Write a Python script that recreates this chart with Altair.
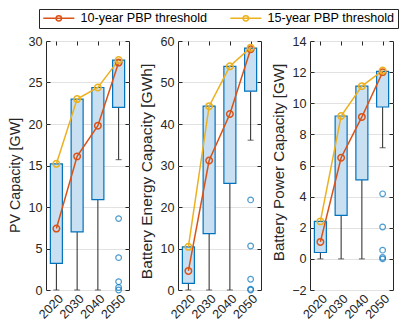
import altair as alt
import pandas as pd

years = ["2020", "2030", "2040", "2050"]
series_names = ["10-year PBP threshold", "15-year PBP threshold"]

# PV capacity [GW]
pv_q1 = [3.2, 7.0, 10.9, 22.0]
pv_q3 = [15.2, 23.0, 24.4, 27.7]
pv_wlo = [0.0, 0.0, 0.0, 15.7]
pv_out = [8.6, 3.9, 1.0, 0.3, 0.0]
pv_10 = [7.4, 16.1, 19.8, 27.4]
pv_15 = [15.2, 23.0, 24.4, 27.7]

# Battery energy capacity [GWh]
be_q1 = [1.6, 13.6, 25.7, 47.9]
be_q3 = [10.4, 44.3, 53.9, 58.3]
be_wlo = [0.0, 0.0, 0.0, 36.1]
be_out = [21.7, 10.6, 2.6, 0.2, 0.0]
be_10 = [4.6, 31.2, 42.4, 58.0]
be_15 = [10.4, 44.3, 53.9, 58.4]

# Battery power capacity [GW]
bp_q1 = [0.41, 2.79, 5.07, 9.76]
bp_q3 = [2.41, 9.18, 11.1, 12.05]
bp_wlo = [0.0, 0.0, 0.0, 7.14]
bp_out = [4.18, 2.05, 0.56, 0.09, 0.0]
bp_10 = [1.09, 6.5, 9.12, 12.0]
bp_15 = [2.41, 9.18, 11.1, 12.1]

FONT = "Liberation Sans"
AX = "#262626"
BLUE = "#0072BD"
BOXFILL = "#c8e0f1"
RED = "#D95319"
YEL = "#EDB120"

LEG_PATH = "M-1,0L5.2,0M2.64,0A0.54,0.54 0 1,1 1.56,0A0.54,0.54 0 1,1 2.64,0"


def make_panel(q1, q3, wlo, outv, l10, l15, lo, hi, step, ytitle, tsize, ty):
    ticks = list(range(lo, hi + 1, step))
    box_df = pd.DataFrame({"year": years, "q1": q1, "q3": q3, "wlo": wlo})
    out_df = pd.DataFrame({"year": ["2050"] * len(outv), "v": outv})
    line_df = pd.DataFrame({
        "year": years + years,
        "v": l10 + l15,
        "series": [series_names[0]] * 4 + [series_names[1]] * 4,
    })
    ys = alt.Scale(domain=[lo, hi], nice=False, zero=False)
    xs = alt.Scale(type="point", padding=0.5, domain=years)

    x_main = alt.Axis(orient="bottom", title=None, labelAngle=315, labelAlign="right",
                      labelBaseline="top", labelPadding=2, ticks=False, tickSize=0,
                      domain=False, grid=False)
    x_top = alt.Axis(orient="top", offset=-4, tickSize=4, ticks=True, labels=False,
                     domain=False, grid=False, title=None, tickColor=AX)
    y_main = alt.Axis(orient="left", title=ytitle, values=ticks, grid=True,
                      gridColor="#e2e2e2", ticks=False, tickSize=0, domain=False,
                      labelPadding=4, titlePadding=5, titleFontSize=tsize, titleY=ty)
    y_in_l = alt.Axis(orient="left", offset=-4, tickSize=4, ticks=True, labels=False,
                      domain=False, grid=False, title=None, values=ticks, tickColor=AX)
    y_in_r = alt.Axis(orient="right", offset=-4, tickSize=4, ticks=True, labels=False,
                      domain=False, grid=False, title=None, values=ticks, tickColor=AX)

    legend = alt.Legend(orient="none", legendX=-7, legendY=-32, direction="horizontal",
                        title=None, symbolType=LEG_PATH, symbolSize=100,
                        symbolStrokeWidth=1.5, symbolFillColor="transparent",
                        labelOffset=26, columnPadding=19, padding=3,
                        strokeColor=AX, fillColor="white", labelFontSize=12.6,
                        labelFont=FONT, labelColor="black",
                        labelExpr="datum.index == 1 ? datum.label + '   ' : datum.label")

    whisk = alt.Chart(box_df).mark_rule(color=AX, strokeWidth=1).encode(
        x=alt.X("year:O", scale=xs, axis=x_main, sort=years),
        y=alt.Y("wlo:Q", scale=ys, axis=y_main),
        y2="q1:Q",
    )
    caps = alt.Chart(box_df).mark_tick(color=AX, size=6, thickness=1).encode(
        x=alt.X("year:O", scale=xs, axis=x_top, sort=years),
        y=alt.Y("wlo:Q", scale=ys, axis=y_in_l),
    )
    boxes = alt.Chart(box_df).mark_bar(size=12, fill=BOXFILL,
                                       stroke=BLUE, strokeWidth=1.2).encode(
        x=alt.X("year:O", scale=xs, axis=None, sort=years),
        y=alt.Y("q1:Q", scale=ys, axis=y_in_r),
        y2="q3:Q",
    )
    outs = alt.Chart(out_df).mark_point(shape="circle", filled=False, size=32,
                                        strokeWidth=1.2, color=BLUE).encode(
        x=alt.X("year:O", scale=xs, axis=None, sort=years),
        y=alt.Y("v:Q", scale=ys, axis=None),
    )
    lines = alt.Chart(line_df).mark_line(
        strokeWidth=1.5,
        point=alt.OverlayMarkDef(filled=False, size=42, strokeWidth=1.5),
    ).encode(
        x=alt.X("year:O", scale=xs, axis=None, sort=years),
        y=alt.Y("v:Q", scale=ys, axis=None),
        color=alt.Color("series:N", scale=alt.Scale(domain=series_names, range=[RED, YEL]),
                        legend=legend),
    )
    return alt.layer(whisk, caps, boxes, outs, lines).resolve_axis(
        x="independent", y="independent"
    ).properties(width=83, height=249)


p1 = make_panel(pv_q1, pv_q3, pv_wlo, pv_out, pv_10, pv_15, 0, 30, 5,
                "PV Capacity [GW]", 14.3, 134)
p2 = make_panel(be_q1, be_q3, be_wlo, be_out, be_10, be_15, 0, 60, 10,
                "Battery Energy Capacity [GWh]", 15.5, 130)
p3 = make_panel(bp_q1, bp_q3, bp_wlo, bp_out, bp_10, bp_15, -2, 14, 2,
                "Battery Power Capacity [GW]", 15.2, 121)

chart = alt.hconcat(p1, p2, p3, spacing=9).properties(
    padding={"left": 0, "top": 0, "right": 0, "bottom": 0}
).configure_view(
    stroke=AX, strokeWidth=1
).configure_axis(
    labelFont=FONT, titleFont=FONT, labelFontSize=12.6, titleFontSize=14,
    titleFontWeight="normal", labelColor=AX, titleColor=AX
)

chart.save("out.html", embed_options={"renderer": "svg", "actions": False})
